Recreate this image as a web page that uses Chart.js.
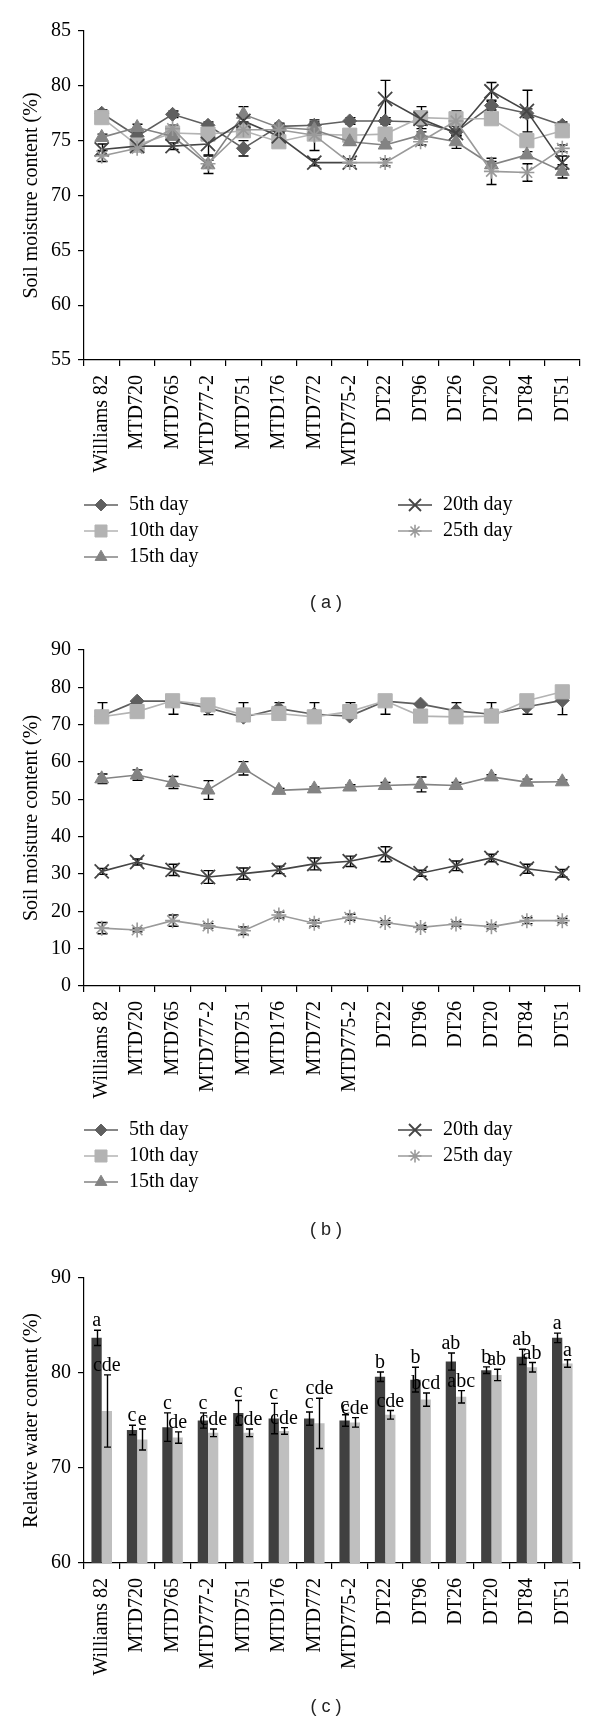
<!DOCTYPE html>
<html>
<head>
<meta charset="utf-8">
<script src="https://cdn.jsdelivr.net/npm/chart.js@4/dist/chart.umd.min.js"></script>
<style>
  body { margin: 0; background: #fff; }
  .box { position: absolute; left: 0; width: 600px; }
</style>
</head>
<body>
<div class="box" style="top:0"><canvas id="chartA" width="600" height="630"></canvas></div>
<div class="box" style="top:630px"><canvas id="chartB" width="600" height="620"></canvas></div>
<div class="box" style="top:1250px"><canvas id="chartC" width="600" height="473"></canvas></div>
<script>
const cats = ['Williams 82', 'MTD720', 'MTD765', 'MTD777-2', 'MTD751', 'MTD176', 'MTD772',
  'MTD775-2', 'DT22', 'DT96', 'DT26', 'DT20', 'DT84', 'DT51'];
const days = ['5th day', '10th day', '15th day', '20th day', '25th day'];

// (a) soil moisture, first treatment
const a5 = [77.5, 75.4, 77.4, 76.4, 74.3, 76.3, 76.4, 76.8, 76.8, 76.7, 75.8, 78.2, 77.5, 76.4];
const a10 = [77.1, 74.6, 75.7, 75.6, 75.9, 74.9, 75.6, 75.5, 75.6, 77.1, 77.0, 77.0, 75.0, 75.9];
const a15 = [75.3, 76.2, 75.4, 72.8, 77.4, 76.2, 76.0, 74.9, 74.6, 75.5, 74.9, 72.8, 73.7, 72.2];
const a20 = [74.2, 74.5, 74.5, 74.7, 76.8, 75.4, 73.0, 73.0, 78.8, 77.0, 75.7, 79.5, 77.7, 73.0];
const a25 = [73.6, 74.3, 76.1, 72.9, 76.0, 76.0, 75.5, 73.0, 73.0, 74.9, 76.8, 72.2, 72.1, 74.3];
const a5Err = [0.3, 0.3, 0.3, 0.3, 0.7, 0.3, 0.3, 0.3, 0.3, 0.3, 0.3, 0.4, 0.4, 0.3];
const a10Err = [0.3, 0.3, 0.3, 0.3, 0.3, 0.3, 0.3, 0.3, 0.3, 1.0, 0.7, 0.3, 0.3, 0.3];
const a15Err = [0.3, 0.3, 0.3, 0.8, 0.7, 0.3, 0.3, 0.3, 0.3, 0.3, 0.6, 0.3, 0.3, 0.6];
const a20Err = [0.5, 0.3, 0.3, 1.0, 0.5, 0.3, 0.3, 0.3, 1.7, 0.3, 0.3, 0.8, 1.9, 0.6];
const a25Err = [0.5, 0.3, 0.3, 0.3, 0.3, 0.3, 1.4, 0.3, 0.3, 0.3, 0.3, 1.2, 0.8, 0.3];

// (b) soil moisture, drying
const b5 = [72.3, 76.3, 76.3, 74.5, 72.0, 74.3, 72.8, 72.3, 76.3, 75.5, 73.7, 72.8, 74.8, 76.5];
const b10 = [72.1, 73.5, 76.4, 75.3, 72.6, 73.0, 72.1, 73.5, 76.4, 72.3, 72.1, 72.3, 76.4, 78.8];
const b15 = [55.5, 56.5, 54.5, 52.5, 58.3, 52.4, 52.8, 53.3, 53.7, 54.0, 53.7, 56.0, 54.6, 54.7];
const b20 = [30.7, 33.2, 31.1, 29.2, 30.1, 31.1, 32.7, 33.4, 35.3, 30.2, 32.2, 34.3, 31.4, 30.2];
const b25 = [15.5, 15.0, 17.5, 16.1, 14.8, 19.0, 16.8, 18.4, 17.0, 15.7, 16.6, 15.9, 17.5, 17.5];
const b5Up = [3.6, 0, 0, 0, 3.9, 1.6, 3.1, 3.6, 0, 0, 2.2, 3.1, 0, 0];
const b5Down = [0, 0, 3.5, 1.8, 0, 0, 0, 0, 3.5, 0, 0, 0, 2.0, 3.8];
const b10Err = [0, 0, 0, 0, 0, 0, 0, 0, 0, 0, 0, 0, 0, 0];
const b15Err = [1.3, 1.4, 1.6, 2.5, 1.8, 0.5, 0.5, 0.6, 0.8, 2.0, 0.8, 0.6, 0.8, 0.5];
const b20Err = [0.8, 0.8, 1.5, 1.7, 1.5, 1.0, 1.6, 1.4, 2.0, 0.8, 1.3, 1.0, 1.2, 1.0];
const b25Err = [1.5, 0.5, 1.5, 0.6, 1.0, 0.8, 0.8, 0.8, 0.5, 0.5, 0.6, 0.6, 0.8, 0.6];

// (c) relative water content
const c1 = [83.7, 74.0, 74.3, 75.0, 75.8, 75.2, 75.2, 75.0, 79.6, 79.3, 81.2, 80.3, 81.7, 83.7];
const c2 = [76.0, 73.0, 73.2, 73.7, 73.7, 73.9, 74.7, 74.8, 75.6, 77.2, 77.5, 79.8, 80.6, 81.0];
const c1Err = [0.8, 0.5, 1.5, 0.8, 1.3, 1.6, 0.7, 0.6, 0.5, 1.3, 0.9, 0.35, 0.8, 0.5];
const c2Err = [3.8, 1.1, 0.6, 0.4, 0.4, 0.35, 2.65, 0.5, 0.45, 0.7, 0.65, 0.6, 0.5, 0.4];
const c1Letters = ['a', 'c', 'c', 'c', 'c', 'c', 'c', 'c', 'b', 'b', 'ab', 'b', 'ab', 'a'];
const c2Letters = ['cde', 'e', 'de', 'cde', 'cde', 'cde', 'cde', 'cde', 'cde', 'bcd', 'abc', 'ab', 'ab', 'a'];

const serif = '"Liberation Serif", "Times New Roman", serif';
const sans = '"Liberation Sans", Arial, sans-serif';
Chart.defaults.font.family = serif;
Chart.defaults.font.size = 20;
Chart.defaults.color = '#000';
Chart.defaults.animation = false;

const dayColors = ['#5f5f5f', '#b3b3b3', '#838383', '#454545', '#9a9a9a'];
const dayStyles = ['rectRot', 'rect', 'triangle', 'crossRot', 'star'];
const dayRadius = [7, 10, 8, 10, 7.5];
const dayBorder = [1, 1, 1, 1.8, 1.6];

function drawErrors(chart, opts) {
  const ctx = chart.ctx, y = chart.scales.y;
  ctx.save();
  ctx.strokeStyle = '#000';
  ctx.lineWidth = 1.4;
  chart.data.datasets.forEach((ds, i) => {
    if (!ds.errUp) return;
    chart.getDatasetMeta(i).data.forEach((el, j) => {
      const v = ds.data[j], up = ds.errUp[j] || 0, dn = ds.errDown[j] || 0;
      if (!up && !dn) return;
      const x = Math.round(el.x) + 0.5;
      const top = y.getPixelForValue(v + up), bot = y.getPixelForValue(v - dn);
      ctx.beginPath();
      ctx.moveTo(x, top);
      ctx.lineTo(x, bot);
      if (up) { ctx.moveTo(x - opts.cap, top); ctx.lineTo(x + opts.cap, top); }
      if (dn) { ctx.moveTo(x - opts.cap, bot); ctx.lineTo(x + opts.cap, bot); }
      ctx.stroke();
    });
  });
  ctx.restore();
}

const errorBars = {
  id: 'errorBars',
  beforeDatasetsDraw(chart, args, opts) { if (opts.under) drawErrors(chart, opts); },
  afterDatasetsDraw(chart, args, opts) { if (!opts.under) drawErrors(chart, opts); }
};

const caption = {
  id: 'caption',
  afterDraw(chart, args, opts) {
    const ctx = chart.ctx;
    ctx.save();
    ctx.fillStyle = '#222';
    ctx.font = '18px ' + sans;
    ctx.textAlign = 'center';
    ctx.textBaseline = 'middle';
    ctx.fillText(opts.text, 326, opts.y);
    ctx.restore();
  }
};

// two-column legend: three items left, two right
const dayLegend = {
  id: 'dayLegend',
  afterDraw(chart, args, opts) {
    const ctx = chart.ctx;
    chart.data.datasets.forEach((ds, i) => {
      const col = i < 3 ? 0 : 1, row = i < 3 ? i : i - 3;
      const x0 = col ? 398 : 84, yy = opts.y + row * 26;
      ctx.save();
      ctx.strokeStyle = ds.borderColor;
      ctx.lineWidth = 1.6;
      ctx.beginPath();
      ctx.moveTo(x0, yy);
      ctx.lineTo(x0 + 34, yy);
      ctx.stroke();
      ctx.fillStyle = ds.pointBackgroundColor;
      ctx.strokeStyle = ds.pointBorderColor;
      ctx.lineWidth = ds.pointBorderWidth;
      if (Chart.helpers && Chart.helpers.drawPoint) {
        Chart.helpers.drawPoint(ctx, {
          pointStyle: ds.pointStyle, radius: ds.pointRadius * 0.85,
          borderWidth: ds.pointBorderWidth, rotation: 0
        }, x0 + 17, yy);
      }
      ctx.fillStyle = '#000';
      ctx.font = '20px ' + serif;
      ctx.textAlign = 'left';
      ctx.textBaseline = 'middle';
      ctx.fillText(ds.label, x0 + 45, yy);
      ctx.restore();
    });
  }
};

const letters = {
  id: 'letters',
  afterDatasetsDraw(chart) {
    const ctx = chart.ctx, y = chart.scales.y;
    ctx.save();
    ctx.fillStyle = '#000';
    ctx.font = '20px ' + serif;
    ctx.textAlign = 'center';
    ctx.textBaseline = 'alphabetic';
    chart.data.datasets.forEach((ds, i) => {
      chart.getDatasetMeta(i).data.forEach((el, j) => {
        ctx.fillText(ds.letters[j], el.x, y.getPixelForValue(ds.data[j] + ds.errUp[j]) - 4);
      });
    });
    ctx.restore();
  }
};

function axisX(h) {
  return {
    type: 'category', offset: true,
    grid: { offset: true, drawOnChartArea: false, color: '#000', tickLength: 6, lineWidth: 1.2 },
    border: { color: '#000', width: 1.2 },
    ticks: { minRotation: 90, maxRotation: 90, autoSkip: false, padding: 9 },
    afterFit(s) { s.height = h; }
  };
}

function axisY(min, max, step, title) {
  return {
    min: min, max: max,
    ticks: { stepSize: step, padding: 7 },
    grid: { drawOnChartArea: false, color: '#000', tickLength: 6, lineWidth: 1.2 },
    border: { color: '#000', width: 1.2 },
    title: { display: true, text: title, padding: { top: 20, bottom: 0 } },
    afterFit(s) { s.width = 84; }
  };
}

function dayDatasets(vals, ups, downs) {
  return vals.map((v, i) => ({
    label: days[i],
    data: v,
    errUp: ups[i],
    errDown: downs[i],
    borderColor: dayColors[i],
    backgroundColor: dayColors[i],
    pointBackgroundColor: dayColors[i],
    pointBorderColor: dayColors[i],
    pointStyle: dayStyles[i],
    pointRadius: dayRadius[i],
    pointBorderWidth: dayBorder[i],
    borderWidth: 1.6,
    tension: 0,
    order: 5 - i
  }));
}

function lineChart(id, vals, ups, downs, yMin, yMax, step, padTop, padBottom, legendY, capY, capText) {
  new Chart(document.getElementById(id), {
    type: 'line',
    data: { labels: cats, datasets: dayDatasets(vals, ups, downs) },
    options: {
      responsive: false,
      layout: { padding: { top: padTop, right: 20, bottom: padBottom, left: 0 } },
      scales: { x: axisX(130), y: axisY(yMin, yMax, step, 'Soil moisture content (%)') },
      plugins: {
        legend: { display: false },
        tooltip: { enabled: false },
        errorBars: { under: true, cap: 5 },
        dayLegend: { y: legendY },
        caption: { text: capText, y: capY }
      }
    },
    plugins: [errorBars, dayLegend, caption]
  });
}

lineChart('chartA', [a5, a10, a15, a20, a25],
  [a5Err, a10Err, a15Err, a20Err, a25Err], [a5Err, a10Err, a15Err, a20Err, a25Err],
  55, 85, 5, 31, 140, 505, 603, '( a )');

lineChart('chartB', [b5, b10, b15, b20, b25],
  [b5Up, b10Err, b15Err, b20Err, b25Err], [b5Down, b10Err, b15Err, b20Err, b25Err],
  0, 90, 10, 20, 134, 500, 600, '( b )');

new Chart(document.getElementById('chartC'), {
  type: 'bar',
  data: {
    labels: cats,
    datasets: [
      { data: c1, errUp: c1Err, errDown: c1Err, letters: c1Letters, backgroundColor: '#404040',
        barPercentage: 1, categoryPercentage: 0.58 },
      { data: c2, errUp: c2Err, errDown: c2Err, letters: c2Letters, backgroundColor: '#bfbfbf',
        barPercentage: 1, categoryPercentage: 0.58 }
    ]
  },
  options: {
    responsive: false,
    layout: { padding: { top: 28, right: 20, bottom: 30, left: 0 } },
    scales: { x: axisX(130), y: axisY(60, 90, 10, 'Relative water content (%)') },
    plugins: {
      legend: { display: false },
      tooltip: { enabled: false },
      errorBars: { under: false, cap: 3.5 },
      caption: { text: '( c )', y: 457 }
    }
  },
  plugins: [errorBars, letters, caption]
});
</script>
</body>
</html>
